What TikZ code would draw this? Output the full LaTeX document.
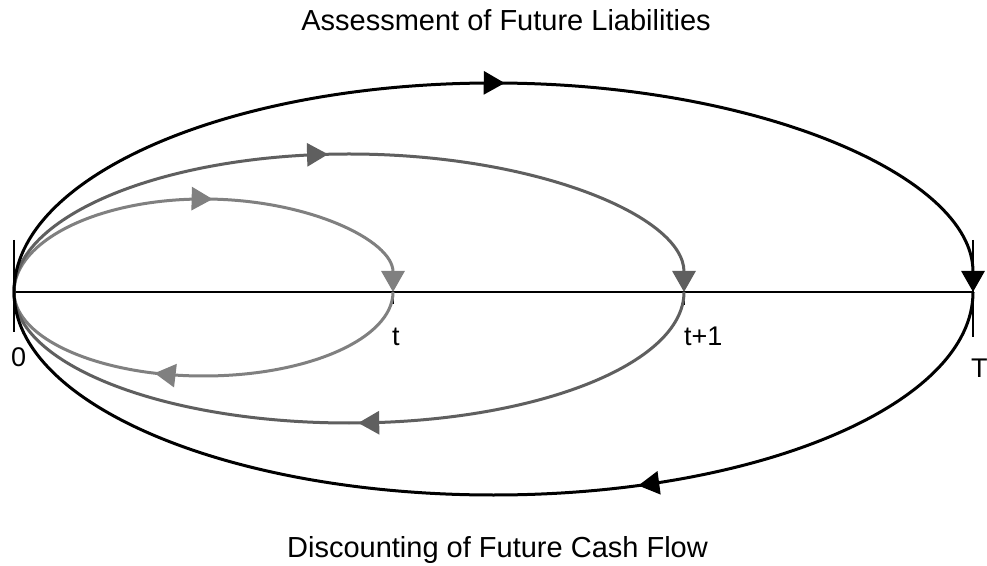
\documentclass[tikz,border=0pt]{standalone}
\usepackage{fontspec}
\setmainfont{Liberation Sans}
\usetikzlibrary{arrows.meta,decorations.markings}
\definecolor{innergray}{HTML}{808080}
\definecolor{middlegray}{HTML}{5F5F5F}
\tikzset{
  bigtip/.tip={Triangle[length=21pt,width=23pt]},
  curve/.style={line width=3pt},
  midarrow/.style={postaction={decorate},decoration={markings,mark=at position #1 with {\arrow{bigtip}}}},
  axisline/.style={line width=1.4pt},
  lbl/.style={anchor=base west,inner sep=0pt,font=\fontsize{27}{32}\selectfont},
  ttl/.style={anchor=base,inner sep=0pt,font=\fontsize{29}{34}\selectfont},
}
\begin{document}
\begin{tikzpicture}[x=1pt,y=1pt]
\useasboundingbox (0,0) rectangle (987,565);
\fill[white] (0,0) rectangle (987,565);
\coordinate (O) at (14,273);
\coordinate (t) at (393,273);
\coordinate (t1) at (684,273);
\coordinate (T) at (973,273);
\coordinate (Otop) at (14,325);
\coordinate (Obot) at (14,233);
\coordinate (Ttop) at (973,325);
\coordinate (Tbot) at (973,228);
\coordinate (tbot) at (393,261);
\coordinate (t1bot) at (684,260);
% axis and ticks
\draw[axisline] (O) -- (T);
\draw[axisline] (Otop) -- (Obot);
\draw[axisline] (Ttop) -- (Tbot);
\draw[axisline] (t) -- (tbot);
\draw[axisline] (t1) -- (t1bot);
% inner loop
\draw[curve, innergray, midarrow=0.52, -{bigtip}] (O) arc[start angle=180, end angle=0, x radius=189.5, y radius=93];
\draw[curve, innergray, midarrow=0.61] (t) arc[start angle=0, end angle=-180, x radius=189.5, y radius=84];
% middle loop
\draw[curve, middlegray, midarrow=0.473, -{bigtip}] (O) arc[start angle=180, end angle=0, x radius=335, y radius=138];
\draw[curve, middlegray, midarrow=0.488] (t1) arc[start angle=0, end angle=-180, x radius=335, y radius=131];
% outer loop
\draw[curve, black, midarrow=0.51, -{bigtip}] (O) arc[start angle=180, end angle=0, x radius=479.5, y radius=209];
\draw[curve, black, midarrow=0.37] (T) arc[start angle=0, end angle=-180, x radius=479.5, y radius=203];
% labels
\node[lbl] (l0) at (11,198) {0};
\node[lbl] (lt) at (392,219) {t};
\node[lbl] (lt1) at (684,219) {t+1};
\node[lbl] (lT) at (971,187) {T};
\node[ttl] (top) at (506,534) {Assessment of Future Liabilities};
\node[ttl] (bottom) at (497.5,8) {Discounting of Future Cash Flow};
\end{tikzpicture}
\end{document}
